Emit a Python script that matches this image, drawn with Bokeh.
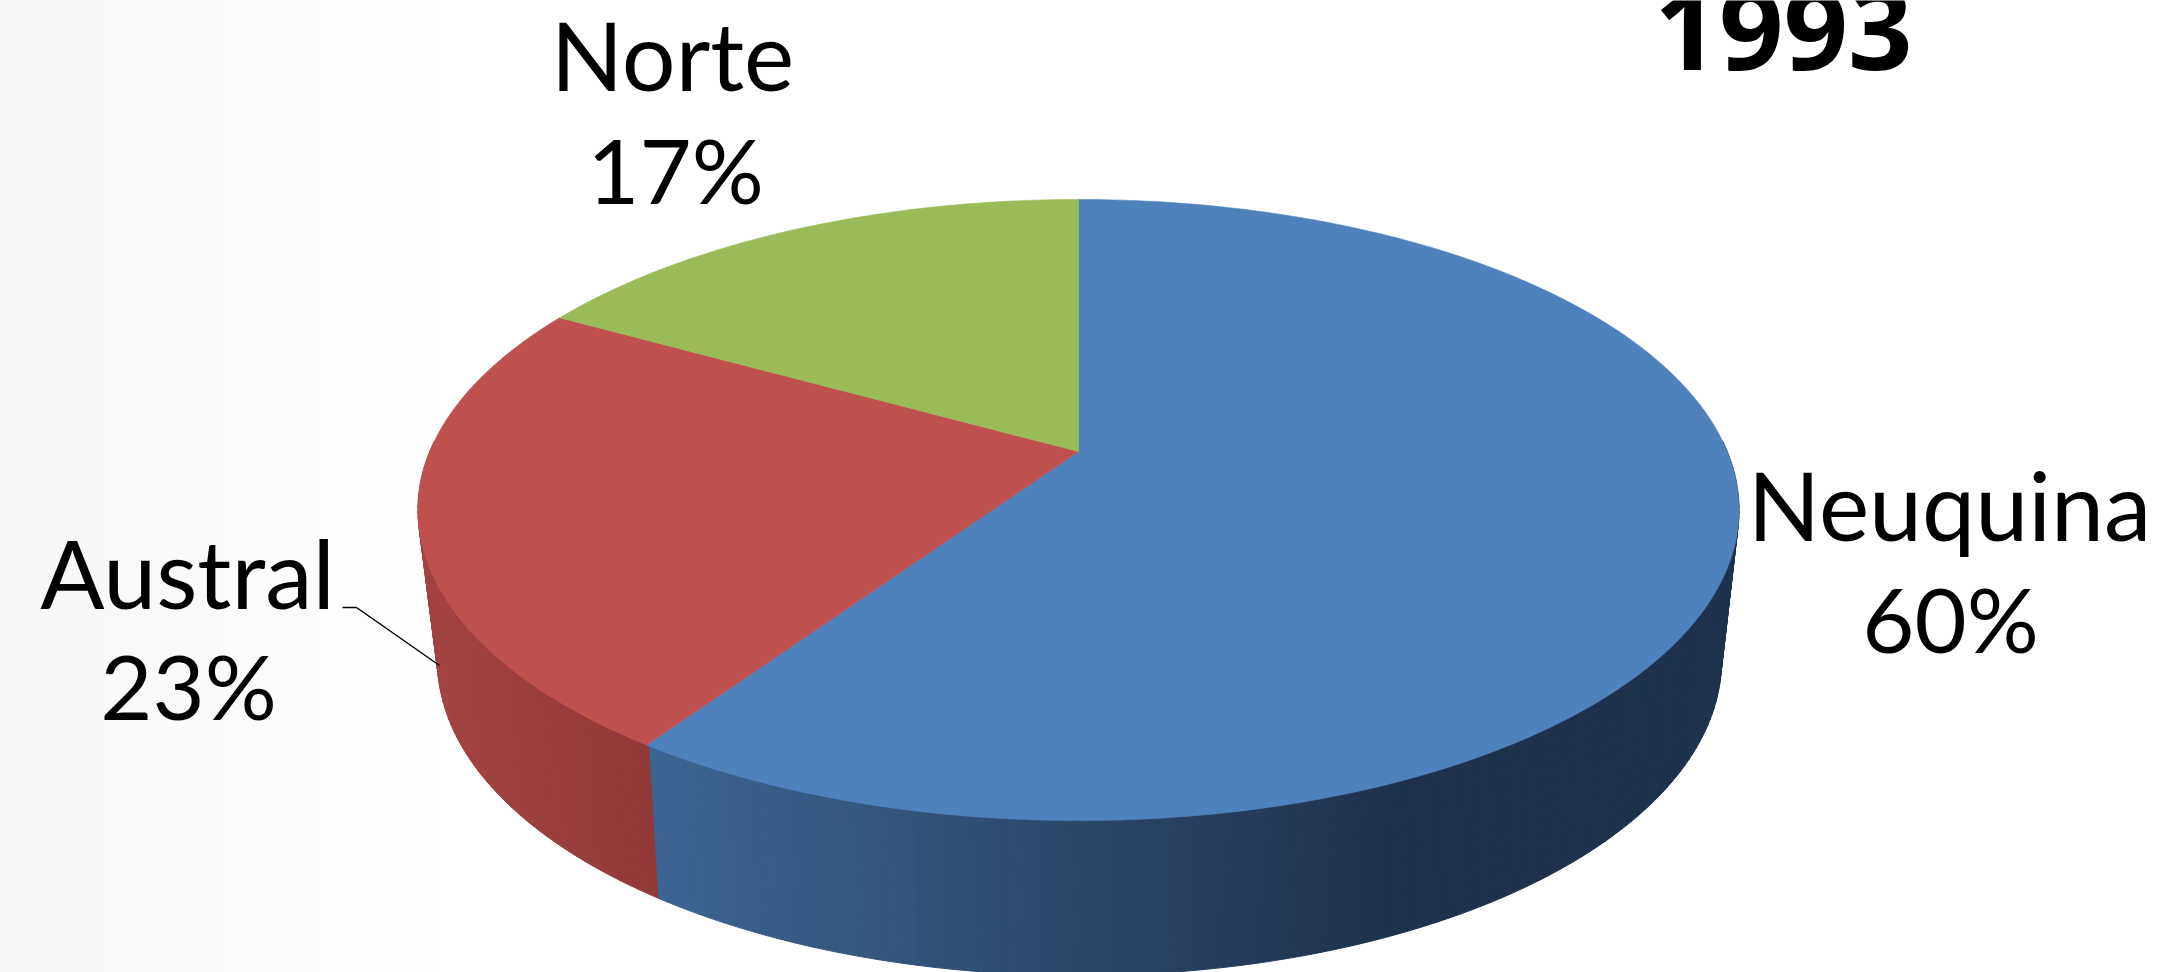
import numpy as np
from bokeh.plotting import figure
from bokeh.models import Range1d, ColumnDataSource
from bokeh.core.properties import value
from bokeh.embed import file_html
from bokeh.resources import INLINE

# --- data ---
regions = ["Neuquina", "Austral", "Norte"]
shares = [59.5, 23.6, 16.9]          # as measured from the slice angles
pct_labels = ["60%", "23%", "17%"]   # as printed on the chart
chart_year = "1993"

# --- style ---
top_colors = ["#4F81BD", "#BE504D", "#9BBB59"]
wall_left = {0: (61, 101, 146), 1: (162, 67, 65), 2: (110, 135, 60)}
wall_right = {0: (30, 50, 77), 1: (146, 58, 56), 2: (110, 135, 60)}

# --- geometry of the perspective disc (screen pixels) ---
TOP = dict(x0=1078.0, y0=451.0, a=648.7, b=299.5, k=0.1884)
BOT = dict(x0=1079.0, y0=597.0, a=629.0, b=302.4, k=0.20)


def project(deg, g):
    t = np.radians(deg)
    v, u = np.sin(t), -np.cos(t)
    d = 1 - g["k"] * u
    return g["x0"] + g["a"] * v / d, g["y0"] + g["b"] * u / d


def hx(c):
    return "#%02x%02x%02x" % tuple(int(round(i)) for i in c)


W, H = 2164, 972
p = figure(width=W, height=H, x_range=Range1d(0, W), y_range=Range1d(H, 0),
           output_backend="svg", toolbar_location=None, min_border=0,
           outline_line_color=None, background_fill_color="white")
p.xaxis.visible = False
p.yaxis.visible = False
p.grid.visible = False

# faint backdrop shading from the left
edges = np.linspace(0, 480, 25)
shade = [hx([247 + 8 * i / 23] * 3) for i in range(24)]
p.quad(left=edges[:-1], right=edges[1:], top=0, bottom=H,
       fill_color=shade, line_color=shade)

# slice boundaries, clockwise from 12 o'clock
total = sum(shares)
bounds = np.concatenate([[0], np.cumsum(shares) / total * 360])

# side wall: narrow strips, each shaded by its position
wx, wy, wc = [], [], []
for deg in np.arange(88, 272, 1.0):
    mid = deg + 0.5
    i = int(np.searchsorted(bounds, mid) - 1)
    x1, y1 = project(np.array([deg, deg + 1.0]), TOP)
    x2, y2 = project(np.array([deg + 1.0, deg]), BOT)
    wx.append(np.concatenate([x1, x2]))
    wy.append(np.concatenate([y1, y2]))
    xm = float(project(mid, BOT)[0])
    if i == 0:
        f = min(max((xm - 650) / (1385 - 650), 0), 1)
    else:
        f = min(max((xm - 440) / (655 - 440), 0), 1)
    wc.append(hx(np.array(wall_left[i]) + f * (np.array(wall_right[i]) - np.array(wall_left[i]))))
p.patches("x", "y", source=ColumnDataSource(dict(x=wx, y=wy, c=wc)),
          fill_color="c", line_color="c", line_width=1)

# top face
tx, ty = [], []
for i in range(len(shares)):
    degs = np.linspace(bounds[i], bounds[i + 1], int(shares[i] * 4) + 2)
    x, y = project(degs, TOP)
    tx.append(np.concatenate([[TOP["x0"]], x]))
    ty.append(np.concatenate([[TOP["y0"]], y]))
p.patches("x", "y", source=ColumnDataSource(dict(x=tx, y=ty, c=top_colors)),
          fill_color="c", line_color="c", line_width=0.6)

# leader line of the Austral label
p.line([342, 356, 439], [607, 607, 665], line_color="black", line_width=1.5)

# labels: baselines in screen pixels, less the renderer's offset
NAME_PX, PCT_PX, YEAR_PX = 95, 90, 113
OFF = 0.39
label_x = [1949, 187, 672]
name_y = np.array([541, 609, 91]) - OFF * NAME_PX
pct_x = [1950, 188, 675]
pct_y = np.array([653, 720, 204]) - OFF * PCT_PX
p.text(x=label_x, y=name_y, text=regions, text_font=value("Lato"), text_font_size=f"{NAME_PX}px",
       text_align="center", text_baseline="alphabetic", text_color="black")
p.text(x=pct_x, y=pct_y, text=pct_labels, text_font=value("Lato"),
       text_font_size=f"{PCT_PX}px", text_align="center", text_baseline="alphabetic", text_color="black")
p.text(x=[1783], y=[73 - OFF * YEAR_PX], text=[chart_year], text_font=value("Open Sans"),
       text_font_size=f"{YEAR_PX}px", text_font_style="bold", text_align="center",
       text_baseline="alphabetic", text_color="black")

open("out.html", "w").write(file_html(p, INLINE))
